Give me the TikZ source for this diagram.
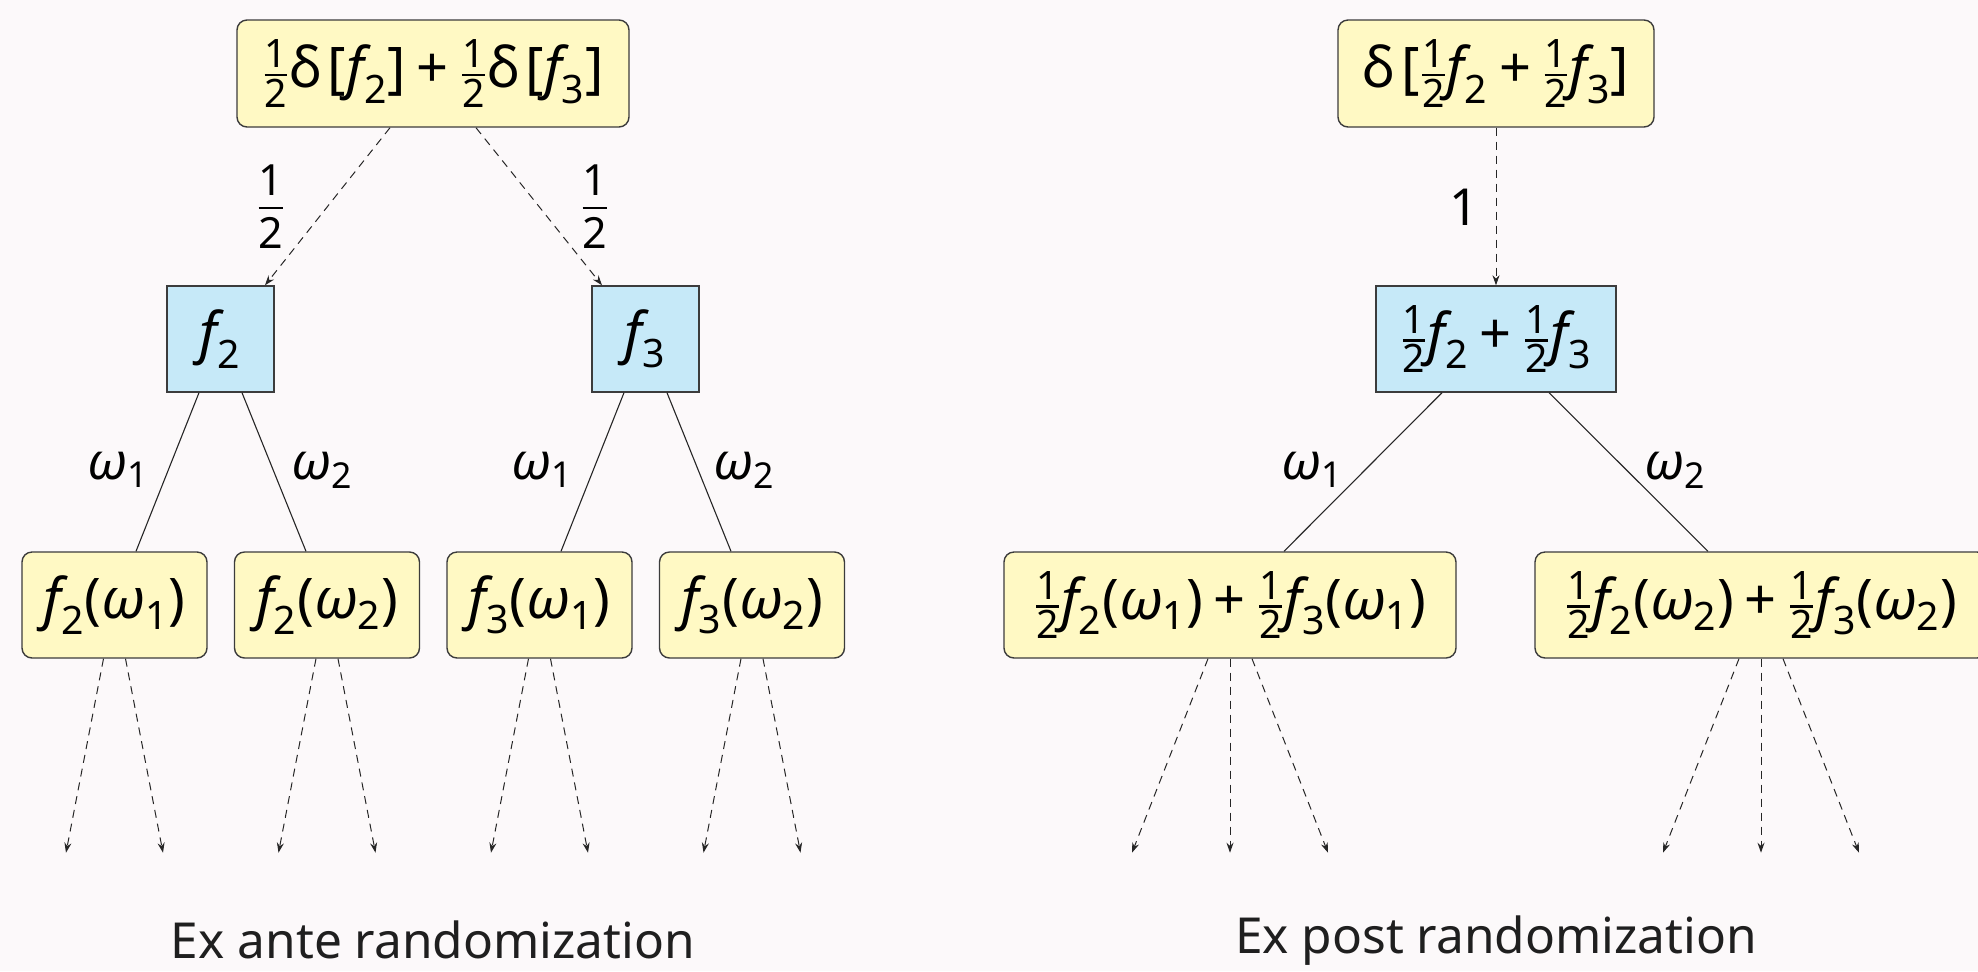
\documentclass[tikz,border=0pt]{standalone}
\usepackage{amsmath}
\usepackage{fontspec}
\setmainfont{Noto Sans}
\newfontfamily\nsf{Noto Sans}
\usetikzlibrary{arrows.meta,calc}

\definecolor{bgcol}{RGB}{252,249,250}
\definecolor{leafcol}{RGB}{255,249,196}
\definecolor{bluecol}{RGB}{198,233,248}
\definecolor{edgecol}{RGB}{60,60,60}

% math-like pieces set in the text font
\newcommand\fn[1]{\textit{f}_{\text{#1}}}
\newcommand\om[1]{\textit{ω}_{\text{#1}}}
\newcommand\hf{\genfrac{}{}{1.2pt}{1}{\text{1}}{\text{2}}}
\newcommand\tx[1]{\text{#1}}
\newcommand\pl{\mathbin{\text{+}}}
\newcommand\dl{\tx{δ}\mkern2mu}
% edge-label fraction with full-size digits
\newcommand\bighf{\genfrac{}{}{1.4pt}{0}%
  {\text{\fontsize{21.5}{22}\selectfont 1}}{\text{\fontsize{21.5}{22}\selectfont 2}}}

\tikzset{
  mathtext/.style={font=\fontsize{28}{32}\selectfont\nsf},
  labtext/.style={font=\fontsize{25.5}{29}\selectfont\nsf},
  ybox/.style={draw=edgecol, line width=0.7pt, fill=leafcol, rounded corners=5pt,
    inner sep=0pt, mathtext},
  bbox/.style={draw=edgecol, line width=0.7pt, fill=bluecol, inner sep=0pt, mathtext},
  prob/.style={-{Stealth[length=5pt,width=3.5pt]}, draw=black!85, line width=0.5pt,
    dash pattern=on 4pt off 3pt},
  branch/.style={draw=black!85, line width=0.55pt},
  lab/.style={labtext, inner sep=0pt},
  fraclab/.style={font=\fontsize{15}{18}\selectfont\nsf, inner sep=0pt},
  caption/.style={font=\fontsize{24.8}{30}\selectfont, text=black!88, anchor=base, inner sep=0pt}
}

\begin{document}
\begin{tikzpicture}[x=0.5pt,y=-0.5pt]
\fill[bgcol] (0,0) rectangle (1978,971);
\useasboundingbox (0,0) rectangle (1978,971);

% ---------------- ex ante tree ----------------
\node[ybox, minimum width=196pt, minimum height=53.5pt] (A) at (433,73.5)
  {$\hf\dl\tx{[}\fn{2}\tx{]}\pl\hf\dl\tx{[}\fn{3}\tx{]}$};
\node[bbox, minimum width=53.5pt, minimum height=53pt] (A2) at (220.5,339) {$\fn{2}$};
\node[bbox, minimum width=53.5pt, minimum height=53pt] (A3) at (645.5,339) {$\fn{3}$};

\node[ybox, minimum width=92.5pt, minimum height=53pt] (L1) at (114.5,605) {$\fn{2}\tx{(}\om{1}\tx{)}$};
\node[ybox, minimum width=92.5pt, minimum height=53pt] (L2) at (327,605) {$\fn{2}\tx{(}\om{2}\tx{)}$};
\node[ybox, minimum width=92.5pt, minimum height=53pt] (L3) at (539.5,605) {$\fn{3}\tx{(}\om{1}\tx{)}$};
\node[ybox, minimum width=92.5pt, minimum height=53pt] (L4) at (752,605) {$\fn{3}\tx{(}\om{2}\tx{)}$};

\draw[prob] ($(A.south)+(-43,0)$) -- ($(A2.north)+(44.5,0)$);
\draw[prob] ($(A.south)+(43,0)$) -- ($(A3.north)+(-43.5,0)$);
\node[fraclab] (pa) at (271,207) {$\bighf$};
\node[fraclab] (pb) at (595,207) {$\bighf$};

\draw[branch] ($(A2.south)+(-21.5,0)$) -- ($(L1.north)+(21.5,0)$);
\draw[branch] ($(A2.south)+(21.5,0)$) -- ($(L2.north)+(-21,0)$);
\draw[branch] ($(A3.south)+(-21.5,0)$) -- ($(L3.north)+(21.5,0)$);
\draw[branch] ($(A3.south)+(21.5,0)$) -- ($(L4.north)+(-21,0)$);
\node[lab] (w1a) at (118,470) {$\om{1}$};
\node[lab] (w2a) at (322,470) {$\om{2}$};
\node[lab] (w1b) at (542,470) {$\om{1}$};
\node[lab] (w2b) at (744,470) {$\om{2}$};

\foreach \n in {L1,L2,L3,L4}{
  \draw[prob] ($(\n.south)+(-11,0)$) -- ($(\n.south)+(-48.5,194)$);
  \draw[prob] ($(\n.south)+(11,0)$) -- ($(\n.south)+(48.5,194)$);
}

\node[caption] (capA) at (433,958) {Ex ante randomization};

% ---------------- ex post tree ----------------
\node[ybox, minimum width=158pt, minimum height=53.5pt] (B) at (1496,73.5)
  {$\dl\tx{[}\hf\fn{2}\pl\hf\fn{3}\tx{]}$};
\node[bbox, minimum width=120pt, minimum height=53pt] (Bm) at (1496,339)
  {$\hf\fn{2}\pl\hf\fn{3}$};
\node[ybox, minimum width=226pt, minimum height=53pt] (R1) at (1230,605)
  {$\hf\fn{2}\tx{(}\om{1}\tx{)}\pl\hf\fn{3}\tx{(}\om{1}\tx{)}$};
\node[ybox, minimum width=226pt, minimum height=53pt] (R2) at (1761,605)
  {$\hf\fn{2}\tx{(}\om{2}\tx{)}\pl\hf\fn{3}\tx{(}\om{2}\tx{)}$};

\draw[prob] (B.south) -- (Bm.north);
\node[lab] (one) at (1464,207) {$\tx{1}$};

\draw[branch] ($(Bm.south)+(-54,0)$) -- ($(R1.north)+(54,0)$);
\draw[branch] ($(Bm.south)+(53,0)$) -- ($(R2.north)+(-53,0)$);
\node[lab] (w1c) at (1312,470) {$\om{1}$};
\node[lab] (w2c) at (1675,470) {$\om{2}$};

\foreach \n in {R1,R2}{
  \draw[prob] ($(\n.south)+(-22,0)$) -- ($(\n.south)+(-98,194)$);
  \draw[prob] (\n.south) -- ($(\n.south)+(0,194)$);
  \draw[prob] ($(\n.south)+(22,0)$) -- ($(\n.south)+(98,194)$);
}

\node[caption] (capB) at (1496,953) {Ex post randomization};
\end{tikzpicture}
\end{document}
